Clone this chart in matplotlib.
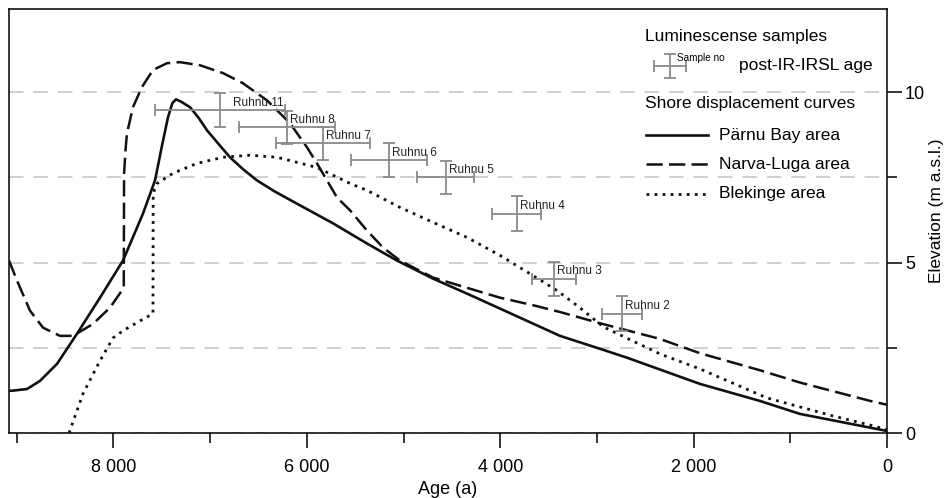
import matplotlib.pyplot as plt
from matplotlib.lines import Line2D

# Shore displacement curves (age in years, elevation m a.s.l.)
parnu_age = [9080, 9049, 8894, 8759, 8583, 8377, 8139, 7901, 7694, 7570, 7500, 7436, 7390,
             7353, 7300, 7208, 7120, 7032, 6910, 6795, 6660, 6515, 6340, 6174, 6071, 5728,
             5378, 5068, 4695, 4344, 4002, 3661, 3382, 2968, 2689, 1934, 1313, 900, 0]
parnu_elev = [1.24, 1.24, 1.29, 1.53, 2.03, 2.91, 3.97, 5.06, 6.44, 7.41, 8.4, 9.26, 9.68,
              9.79, 9.72, 9.56, 9.25, 8.88, 8.47, 8.09, 7.74, 7.41, 7.1, 6.84, 6.68, 6.15,
              5.56, 5.06, 4.53, 4.09, 3.65, 3.21, 2.85, 2.47, 2.21, 1.44, 0.94, 0.56, 0.06]

narva_age = [9080, 8997, 8863, 8728, 8553, 8418, 8211, 8035, 7893, 7890, 7875, 7860, 7798,
             7705, 7591, 7446, 7312, 7105, 6867, 6660, 6412, 6174, 5998, 5895, 5688, 5552,
             5378, 5211, 5037, 4695, 4344, 4002, 3661, 3382, 2968, 2348, 1934, 1313, 900,
             145, 0]
narva_elev = [5.06, 4.47, 3.59, 3.09, 2.85, 2.85, 3.2, 3.68, 4.26, 7.6, 8.3, 8.79, 9.56,
              10.15, 10.65, 10.85, 10.88, 10.79, 10.56, 10.26, 9.76, 9.09, 8.38, 7.91, 6.91,
              6.53, 5.94, 5.44, 5.06, 4.56, 4.26, 3.97, 3.75, 3.55, 3.22, 2.76, 2.34, 1.84,
              1.48, 0.92, 0.83]

blek_age = [8459, 8315, 8139, 8004, 7901, 7725, 7591, 7589, 7575, 7549, 7384, 7136, 6867,
            6588, 6308, 5895, 5552, 5378, 5037, 4695, 4344, 4002, 3661, 3413, 3178, 2936,
            2689, 2348, 1934, 1242, 558, 145, 0]
blek_elev = [0.0, 1.15, 2.12, 2.79, 3.0, 3.29, 3.5, 6.9, 7.15, 7.32, 7.62, 7.91, 8.09,
             8.15, 8.09, 7.79, 7.32, 7.12, 6.62, 6.18, 5.74, 5.21, 4.62, 4.18, 3.68, 3.12,
             2.78, 2.32, 1.88, 1.03, 0.5, 0.21, 0.1]

# Luminescence samples
sample_names = ['Ruhnu 11', 'Ruhnu 8', 'Ruhnu 7', 'Ruhnu 6', 'Ruhnu 5', 'Ruhnu 4',
                'Ruhnu 3', 'Ruhnu 2']
sample_age = [6898, 6205, 5833, 5150, 4561, 3827, 3444, 2741]
sample_age_err = [677, 500, 490, 393, 295, 253, 228, 207]
sample_elev = [9.47, 8.97, 8.5, 8.0, 7.5, 6.44, 4.53, 3.5]
sample_elev_err = [0.5, 0.49, 0.49, 0.5, 0.49, 0.5, 0.5, 0.52]

x_ticks = [8000, 6000, 4000, 2000, 0]
x_tick_labels = ['8 000', '6 000', '4 000', '2 000', '0']
x_minor = [9000, 7000, 5000, 3000, 1000]
y_ticks = [0, 5, 10]
y_minor = [2.5, 7.5]

plt.rcParams['font.family'] = ['Liberation Sans', 'DejaVu Sans']

fig = plt.figure(figsize=(9.52, 4.98), dpi=100)
ax = fig.add_axes([9 / 952, 65 / 498, 878 / 952, 424 / 498])

ink = '#111111'
errc = '#8a8a8a'

ax.plot(parnu_age, parnu_elev, color=ink, lw=1.9, solid_joinstyle='round', zorder=3)
ax.plot(narva_age, narva_elev, color=ink, lw=1.8, linestyle=(0, (6.5, 2.5)), zorder=3)
ax.plot(blek_age, blek_elev, color=ink, lw=2.0, linestyle=(0, (1, 1.9)), zorder=3)

ax.errorbar(sample_age, sample_elev, xerr=sample_age_err, yerr=sample_elev_err,
            fmt='none', ecolor=errc, elinewidth=1.3, capsize=4.5, capthick=1.3, zorder=4)
for name, a, e in zip(sample_names, sample_age, sample_elev):
    dx = 9.5 if name == 'Ruhnu 11' else 2.5
    ax.annotate(name, (a, e), xytext=(dx, 5.5), textcoords='offset points',
                fontsize=8.5, ha='left', va='center', color='#222222', zorder=5)

# axes, ticks, grid
ax.set_xlim(9080, 0)
ax.set_ylim(0, 12.44)
ax.yaxis.tick_right()
ax.yaxis.set_label_position('right')
ax.set_xticks(x_ticks, x_tick_labels)
ax.set_xticks(x_minor, minor=True)
ax.set_yticks(y_ticks)
ax.set_yticks(y_minor, minor=True)
ax.tick_params(which='major', length=11, width=1.1, labelsize=13, direction='out')
ax.tick_params(which='minor', length=7, width=1.1, direction='out')
ax.tick_params(axis='x', pad=8)
ax.tick_params(axis='y', pad=2)
ax.yaxis.grid(True, which='both', color='#c4c4c4', lw=1.1, linestyle=(0, (9.5, 6.5)))
ax.set_axisbelow(True)
for sp in ax.spines.values():
    sp.set_linewidth(1.1)
ax.set_xlabel('Age (a)', fontsize=13, labelpad=3)
ax.set_ylabel('Elevation (m a.s.l.)', fontsize=12.5)
ax.yaxis.set_label_coords(1.048, 0.524)

# custom legend
tr = ax.transAxes
ax.text(0.7244, 0.936, 'Luminescense samples', transform=tr, fontsize=12.5, va='center')
ax.errorbar([0.7528], [0.8656], xerr=[0.0182], yerr=[0.0283], transform=tr, fmt='none',
            ecolor=errc, elinewidth=1.3, capsize=4, capthick=1.3, clip_on=False)
ax.text(0.7608, 0.8844, 'Sample no', transform=tr, fontsize=7.2, va='center')
ax.text(0.8314, 0.8656, 'post-IR-IRSL age', transform=tr, fontsize=12.5, va='center')
ax.text(0.7244, 0.776, 'Shore displacement curves', transform=tr, fontsize=12.5, va='center')

legend_rows = [
    ('Pärnu Bay area', dict(lw=1.9)),
    ('Narva-Luga area', dict(lw=1.8, linestyle=(0, (6.5, 2.5)))),
    ('Blekinge area', dict(lw=2.0, linestyle=(0, (1, 1.9)))),
]
for (label, style), y in zip(legend_rows, [0.7028, 0.6344, 0.5637]):
    ax.add_line(Line2D([0.7255, 0.7961], [y, y], transform=tr, color=ink, **style))
    ax.text(0.8087, y, label, transform=tr, fontsize=12.5, va='center')

fig.savefig('out.png', dpi=100)
